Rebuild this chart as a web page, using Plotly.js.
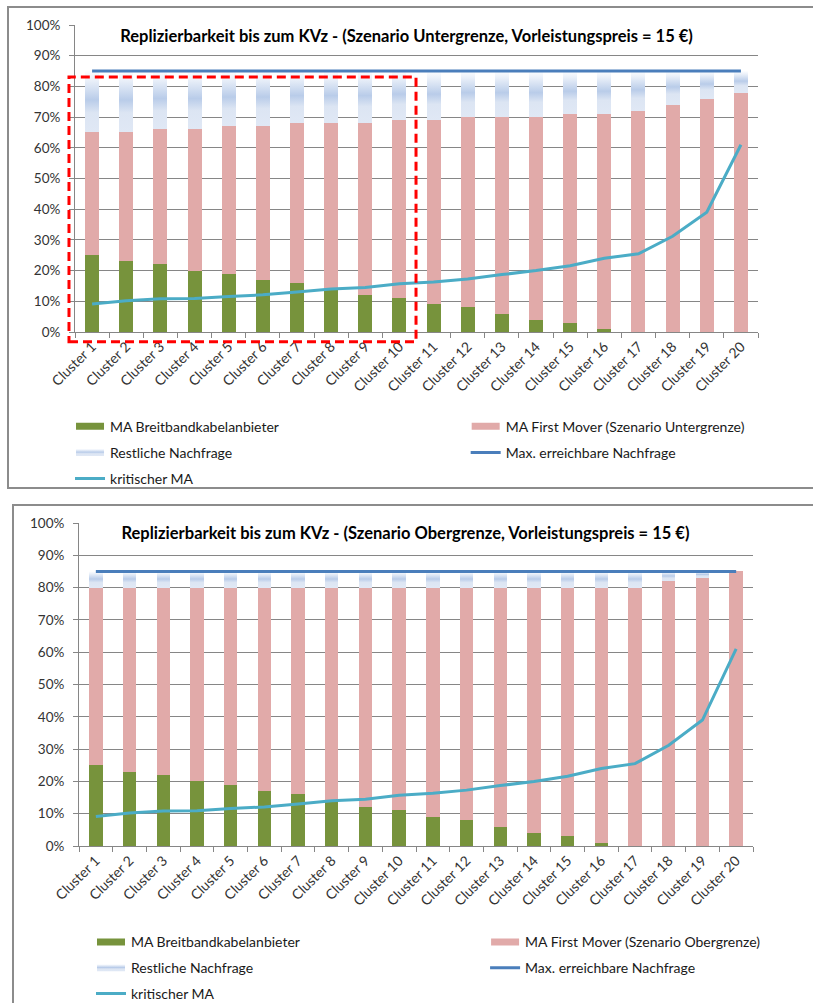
<!DOCTYPE html>
<html>
<head>
<meta charset="utf-8">
<script src="https://cdn.plot.ly/plotly-3.0.1.min.js"></script>
<style>
html,body{margin:0;padding:0;background:#fff;overflow:hidden;width:813px;height:1003px;}
.box{position:absolute;border:2px solid #8c8c8c;box-sizing:content-box;background:#fff;}
#c1{left:7px;top:6px;width:810px;height:479px;}
#c2{left:12px;top:504px;width:810px;height:500px;}
</style>
</head>
<body>
<div id="c1" class="box"></div>
<div id="c2" class="box"></div>
<script>
// ---------- data ----------
const clusters = ['Cluster 1','Cluster 2','Cluster 3','Cluster 4','Cluster 5','Cluster 6','Cluster 7','Cluster 8','Cluster 9','Cluster 10',
                  'Cluster 11','Cluster 12','Cluster 13','Cluster 14','Cluster 15','Cluster 16','Cluster 17','Cluster 18','Cluster 19','Cluster 20'];
const maBreitband = [25,23,22,20,19,17,16,14,12,11,9,8,6,4,3,1,0,0,0,0];
const maFirstMoverUnter = [40,42,44,46,48,50,52,54,56,58,60,62,64,66,68,70,72,74,76,78];
const restUnter = [20,20,19,19,18,18,17,17,17,16,16,15,15,15,14,14,13,11,9,7];
const maFirstMoverOber = [55,57,58,60,61,63,64,66,68,69,71,72,74,76,77,79,80,82,83,85];
const restOber = [5,5,5,5,5,5,5,5,5,5,5,5,5,5,5,5,5,3,2,0];
const maxNachfrage = [85,85,85,85,85,85,85,85,85,85,85,85,85,85,85,85,85,85,85,85];
const kritischerMA = [9.1,10.2,10.8,10.9,11.6,12.1,13.0,14.0,14.5,15.7,16.3,17.3,18.7,20.0,21.6,24.0,25.5,31.2,39.0,61.0];

const titleUnter = 'Replizierbarkeit bis zum KVz - (Szenario Untergrenze, Vorleistungspreis = 15 €)';
const titleOber = 'Replizierbarkeit bis zum KVz - (Szenario Obergrenze, Vorleistungspreis = 15 €)';
const nameFMUnter = 'MA First Mover (Szenario Untergrenze)';
const nameFMOber = 'MA First Mover (Szenario Obergrenze)';

// ---------- styling ----------
const FONT = 'Lato, "Open Sans", sans-serif';
const GRID = '#868686';

function makeTraces(firstMover, rest, fmName) {
  return [
    {type:'bar', x:clusters, y:maBreitband, name:'MA Breitbandkabelanbieter',
     marker:{color:'#77933c', line:{width:0}}, legend:'legend', legendgroup:'g1', hoverinfo:'skip'},
    {type:'bar', x:clusters, y:firstMover, name:fmName,
     marker:{color:'#e1aaa9', line:{width:0}}, legend:'legend2', legendgroup:'g2', hoverinfo:'skip'},
    {type:'bar', x:clusters, y:rest, name:'Restliche Nachfrage',
     marker:{color:'#d8e2f2', line:{width:0}}, legend:'legend', legendgroup:'g3', hoverinfo:'skip'},
    {type:'scatter', mode:'lines', x:clusters, y:maxNachfrage, name:'Max. erreichbare Nachfrage',
     line:{color:'#4a7ebb', width:3}, legend:'legend2', legendgroup:'g4', hoverinfo:'skip'},
    {type:'scatter', mode:'lines', x:clusters, y:kritischerMA, name:'kritischer MA',
     line:{color:'#4bacc6', width:3}, legend:'legend', legendgroup:'g5', hoverinfo:'skip'}
  ];
}

function makeLayout(o) {
  return {
    width:810, height:o.h,
    margin:{l:o.l, r:o.r, t:o.t, b:o.b, autoexpand:false},
    paper_bgcolor:'#ffffff', plot_bgcolor:'#ffffff',
    barmode:'stack', bargap:o.bargap,
    showlegend:true,
    font:{family:FONT, size:13, color:'#333333'},
    title:{text:o.title, x:o.tx, xref:'paper', xanchor:'center', y:o.ty, yref:'container', yanchor:'middle',
           font:{family:FONT, size:16.5, color:'#000000', weight:'bold'}},
    xaxis:{type:'category', tickangle:-45, ticks:'outside', tickson:'boundaries', ticklen:5, tickcolor:GRID,
           showline:true, linecolor:GRID, linewidth:1, showgrid:false, zeroline:false,
           tickfont:{family:FONT, size:14, color:'#333333'}, fixedrange:true},
    yaxis:{range:[0,100], dtick:10, ticksuffix:'%', ticks:'outside', ticklen:5, tickcolor:GRID,
           showline:true, linecolor:GRID, linewidth:1, showgrid:true, gridcolor:GRID, gridwidth:1,
           zeroline:false, ticklabelstandoff:6, tickfont:{family:FONT, size:13.5, color:'#333333'}, fixedrange:true},
    legend:{x:o.lx1, y:o.ly, xanchor:'left', yanchor:'top', orientation:'v', traceorder:'grouped',
            tracegroupgap:o.gap, font:{family:FONT, size:14, color:'#1a1a1a'}, bgcolor:'rgba(0,0,0,0)'},
    legend2:{x:o.lx2, y:o.ly, xanchor:'left', yanchor:'top', orientation:'v', traceorder:'grouped',
            tracegroupgap:o.gap, font:{family:FONT, size:14, color:'#1a1a1a'}, bgcolor:'rgba(0,0,0,0)'},
    shapes:o.shapes || []
  };
}

function ensureGradient(gd, id) {
  if (document.getElementById(id)) return;
  const ns = 'http://www.w3.org/2000/svg';
  const svg = gd.querySelector('svg.main-svg');
  let defs = svg.querySelector('defs');
  if (!defs) { defs = document.createElementNS(ns, 'defs'); svg.insertBefore(defs, svg.firstChild); }
  const lg = document.createElementNS(ns, 'linearGradient');
  lg.setAttribute('id', id);
  lg.setAttribute('x1','0'); lg.setAttribute('y1','0'); lg.setAttribute('x2','0'); lg.setAttribute('y2','1');
  [[0,'#fdfeff'],[0.15,'#eaf0f9'],[0.47,'#b9cce9'],[0.68,'#dce5f3'],[1,'#e0e8f5']].forEach(s => {
    const st = document.createElementNS(ns, 'stop');
    st.setAttribute('offset', s[0]); st.setAttribute('stop-color', s[1]);
    lg.appendChild(st);
  });
  defs.appendChild(lg);
}

function decorate(gd, id) {
  ensureGradient(gd, id);
  const barTraces = gd.querySelectorAll('.barlayer .trace');
  if (barTraces[2]) barTraces[2].querySelectorAll('path').forEach(p => { p.style.fill = 'url(#' + id + ')'; });
  // legend swatches of the bar series drawn as wide flat bands, as in the original
  gd.querySelectorAll('.legendpoints').forEach(g => {
    let node = g, tr = null;
    while (node && node !== gd) {
      const dd = node.__data__;
      if (dd && dd[0] && dd[0].trace) { tr = dd[0].trace; break; }
      node = node.parentNode;
    }
    if (!tr || tr.type !== 'bar') return;
    g.querySelectorAll('path').forEach(p => {
      p.setAttribute('d', 'M-14,3.5H14V-3.5H-14Z');
      if (tr.name === 'Restliche Nachfrage') p.style.fill = 'url(#' + id + ')';
    });
  });
}

// ---------- chart 1 (Untergrenze) ----------
const layout1 = makeLayout({
  h:479, l:66, r:61, t:17, b:154.7, bargap:0.59,
  title:titleUnter, tx:0.4854, ty:0.9414,
  lx1:-0.0073, lx2:0.572, ly:-0.2561, gap:5,
  shapes:[{type:'rect', xref:'paper', yref:'paper', x0:-0.0088, x1:0.4993, y0:-0.0316, y1:0.8308,
           line:{color:'#ff0000', width:3, dash:'9px,5px'}, fillcolor:'rgba(0,0,0,0)', layer:'above'}]
});
// ---------- chart 2 (Obergrenze) ----------
const layout2 = makeLayout({
  h:500, l:65, r:71, t:17.3, b:160.3, bargap:0.605,
  title:titleOber, tx:0.4844, ty:0.9454,
  lx1:0.0178, lx2:0.6025, ly:-0.249, gap:4.5
});

const cfg = {staticPlot:true, displayModeBar:false};
function render(div, traces, layout, gid) {
  return Plotly.newPlot(div, traces, layout, cfg).then(gd => {
    decorate(gd, gid);
    gd.on && gd.on('plotly_afterplot', () => decorate(gd, gid));
    setTimeout(() => decorate(gd, gid), 50);
    setTimeout(() => decorate(gd, gid), 400);
    return gd;
  });
}
render('c1', makeTraces(maFirstMoverUnter, restUnter, nameFMUnter), layout1, 'gradRest1');
render('c2', makeTraces(maFirstMoverOber, restOber, nameFMOber), layout2, 'gradRest2');
</script>
</body>
</html>
